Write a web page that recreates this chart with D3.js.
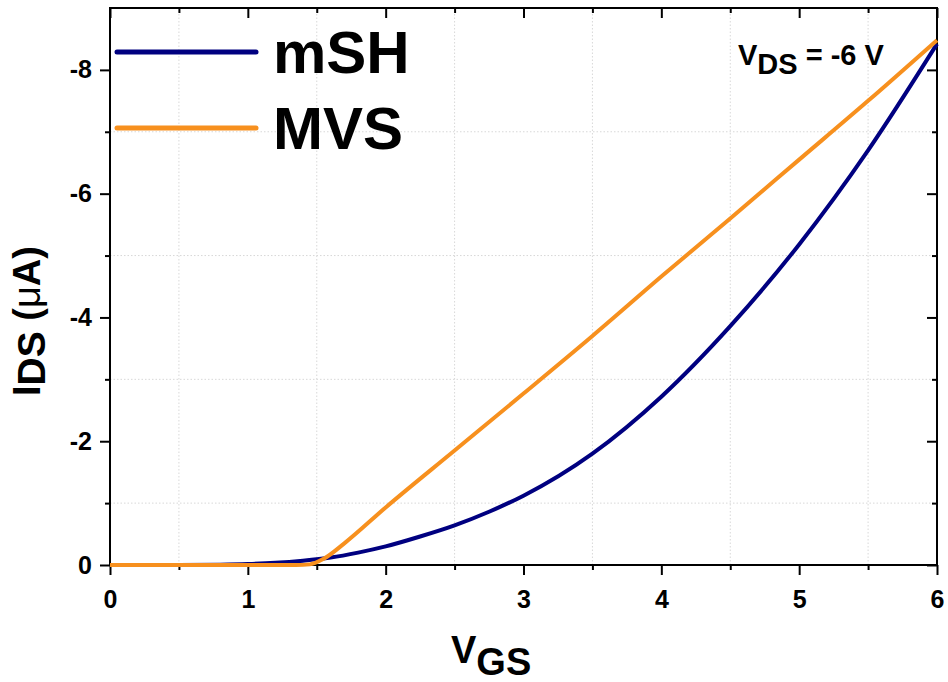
<!DOCTYPE html>
<html>
<head>
<meta charset="utf-8">
<script src="https://cdn.jsdelivr.net/npm/d3@7"></script>
<style>
  body { margin: 0; background: #fff; }
  text { font-family: "Liberation Sans", Arial, sans-serif; font-weight: bold; }
</style>
</head>
<body>
<div id="chart"></div>
<script>
// Data (V_GS in volts, I_DS in µA)
var vgsMSH = [0, 0.5, 0.8, 1.0, 1.2, 1.4, 1.6, 1.8, 2.0, 2.25, 2.5, 2.75, 3.0, 3.5, 4.0, 4.5, 5.0, 5.5, 6.0];
var idsMSH = [0, 0, -0.005, -0.015, -0.035, -0.07, -0.12, -0.2, -0.3, -0.46, -0.64, -0.86, -1.12, -1.8, -2.72, -3.86, -5.18, -6.7, -8.42];

var vgsMVS = [0, 0.5, 1.0, 1.35, 1.45, 1.55, 1.7, 2.0, 2.5, 3.0, 3.5, 4.0, 4.5, 5.0, 5.5, 6.0];
var idsMVS = [0, 0, 0, 0, -0.01, -0.1, -0.35, -0.93, -1.85, -2.77, -3.7, -4.66, -5.6, -6.55, -7.5, -8.48];

var seriesNames = ["mSH", "MVS"];
var seriesColors = ["#000080", "#f7901e"];

var xMajor = [0, 1, 2, 3, 4, 5, 6];
var xMinor = [0.5, 1.5, 2.5, 3.5, 4.5, 5.5];
var yMajor = [0, -2, -4, -6, -8];
var yMinor = [-1, -3, -5, -7];

var W = 948, H = 682;
var x0 = 110, x1 = 937, y0 = 565, y1 = 8;

var svg = d3.select("#chart").append("svg")
    .attr("width", W)
    .attr("height", H);

var x = d3.scaleLinear().domain([0, 6]).range([x0, x1]);
var y = d3.scaleLinear().domain([0, -9]).range([y0, y1]);

// dotted grid at the minor positions
var grid = svg.append("g").attr("class", "grid")
    .attr("stroke", "#d8d8d8")
    .attr("stroke-width", 1)
    .attr("stroke-dasharray", "1.5,2");
grid.selectAll("line.gx").data(xMinor).enter().append("line")
    .attr("x1", d => x(d)).attr("x2", d => x(d))
    .attr("y1", y0).attr("y2", y1);
grid.selectAll("line.gy").data(yMinor).enter().append("line")
    .attr("x1", x0).attr("x2", x1)
    .attr("y1", d => y(d)).attr("y2", d => y(d));

// axes
function styleAxis(g) {
  g.select(".domain").remove();
  g.selectAll(".tick line").attr("stroke", "#000").attr("stroke-width", 2);
  g.selectAll(".tick text")
      .attr("fill", "#000")
      .style("font-size", "25px");
}
var fmt = function (d) { return String(d); };

svg.append("g").attr("transform", "translate(0," + y0 + ")")
    .call(d3.axisBottom(x).tickValues(xMajor).tickFormat(fmt).tickSize(10).tickPadding(15))
    .call(styleAxis);
svg.append("g").attr("transform", "translate(0," + y0 + ")")
    .call(d3.axisBottom(x).tickValues(xMinor).tickFormat("").tickSize(5))
    .call(styleAxis);
svg.append("g").attr("transform", "translate(0," + y1 + ")")
    .call(d3.axisBottom(x).tickValues(xMajor).tickFormat("").tickSize(10))
    .call(styleAxis);
svg.append("g").attr("transform", "translate(0," + y1 + ")")
    .call(d3.axisBottom(x).tickValues(xMinor).tickFormat("").tickSize(5))
    .call(styleAxis);

svg.append("g").attr("transform", "translate(" + x0 + ",0)")
    .call(d3.axisLeft(y).tickValues(yMajor).tickFormat(fmt).tickSize(10).tickPadding(8))
    .call(styleAxis);
svg.append("g").attr("transform", "translate(" + x0 + ",0)")
    .call(d3.axisLeft(y).tickValues(yMinor).tickFormat("").tickSize(5))
    .call(styleAxis);
svg.append("g").attr("transform", "translate(" + x1 + ",0)")
    .call(d3.axisLeft(y).tickValues(yMajor).tickFormat("").tickSize(10))
    .call(styleAxis);
svg.append("g").attr("transform", "translate(" + x1 + ",0)")
    .call(d3.axisLeft(y).tickValues(yMinor).tickFormat("").tickSize(5))
    .call(styleAxis);

// frame
svg.append("rect")
    .attr("x", x0).attr("y", y1)
    .attr("width", x1 - x0).attr("height", y0 - y1)
    .attr("fill", "none")
    .attr("stroke", "#000")
    .attr("stroke-width", 2);

// curves
var line = d3.line()
    .x(d => x(d[0]))
    .y(d => y(d[1]))
    .curve(d3.curveMonotoneX);

var series = [
  d3.zip(vgsMSH, idsMSH),
  d3.zip(vgsMVS, idsMVS)
];

svg.append("g").selectAll("path")
    .data(series).enter().append("path")
    .attr("d", line)
    .attr("fill", "none")
    .attr("stroke", (d, i) => seriesColors[i])
    .attr("stroke-width", 4)
    .attr("stroke-linejoin", "round");

// legend
var legend = svg.append("g").selectAll("g")
    .data(seriesNames).enter().append("g")
    .attr("transform", (d, i) => "translate(0," + (52 + i * 76) + ")");
legend.append("line")
    .attr("x1", 117).attr("x2", 256)
    .attr("stroke", (d, i) => seriesColors[i])
    .attr("stroke-width", 5)
    .attr("stroke-linecap", "round");
legend.append("text")
    .attr("x", 273).attr("y", 21)
    .style("font-size", "60px")
    .text(d => d);

// V_DS annotation
var note = svg.append("text")
    .attr("x", 738).attr("y", 65)
    .style("font-size", "29px");
note.append("tspan").text("V");
note.append("tspan").attr("dy", 9).text("DS");
note.append("tspan").attr("dy", -9).text(" = -6 V");

// axis titles
var xt = svg.append("text")
    .attr("x", 451).attr("y", 663)
    .style("font-size", "38px");
xt.append("tspan").text("V");
xt.append("tspan").attr("dy", 12).text("GS");

var yt = svg.append("text")
    .attr("transform", "translate(40,396) rotate(-90)")
    .style("font-size", "38px");
yt.append("tspan").text("I");
yt.append("tspan").attr("dy", 5).style("font-size", "39px").text("DS");
yt.append("tspan").attr("dy", -5).style("font-size", "38px").text(" (");
yt.append("tspan").style("font-size", "38px").style("font-weight", "normal").text("μ");
yt.append("tspan").style("font-size", "38px").text("A)");
</script>
</body>
</html>
